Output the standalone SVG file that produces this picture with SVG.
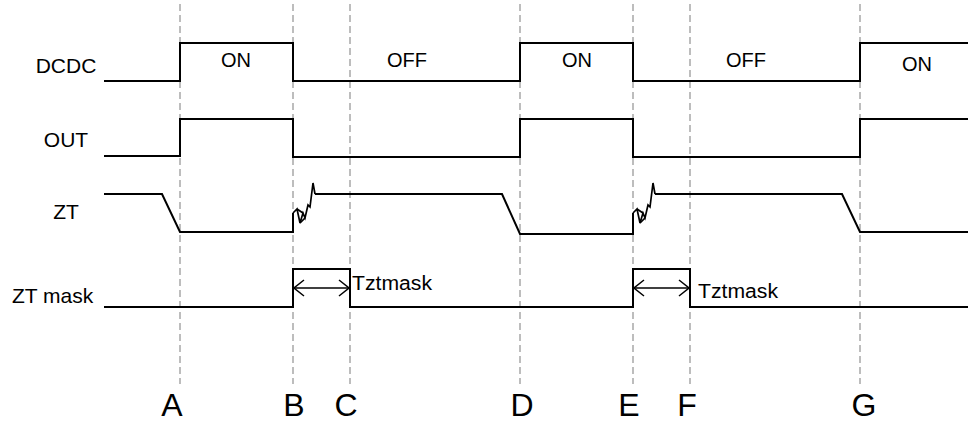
<svg xmlns="http://www.w3.org/2000/svg" width="968" height="423" viewBox="0 0 968 423">
<style>
.grid{stroke:#9a9a9a;stroke-width:1.3;stroke-dasharray:7 4;fill:none}
.sig{stroke:#000;stroke-width:2;fill:none;stroke-linejoin:miter}
.zz{stroke:#000;stroke-width:1.7;fill:none;stroke-linejoin:miter}
.arr{stroke:#000;stroke-width:1.5;fill:none}
.lbl{font-family:"Liberation Sans",Arial,sans-serif;font-size:21px;fill:#000}
.st{font-family:"Liberation Sans",Arial,sans-serif;font-size:20px;fill:#000}
.pt{font-family:"Liberation Sans",Arial,sans-serif;font-size:32px;fill:#000;text-anchor:middle}
</style>
<defs>
<marker id="ah" viewBox="0 0 12 18" refX="11" refY="9" markerWidth="12" markerHeight="18" markerUnits="userSpaceOnUse" orient="auto-start-reverse">
<path d="M1,1 L11,9 L1,17" fill="none" stroke="#000" stroke-width="1.5"/>
</marker>
</defs>
<g id="gridlines">
<line class="grid" x1="180" y1="4" x2="180" y2="384"/>
<line class="grid" x1="293" y1="4" x2="293" y2="384"/>
<line class="grid" x1="350" y1="4" x2="350" y2="384"/>
<line class="grid" x1="520" y1="4" x2="520" y2="384"/>
<line class="grid" x1="633" y1="4" x2="633" y2="384"/>
<line class="grid" x1="690" y1="4" x2="690" y2="384"/>
<line class="grid" x1="860" y1="4" x2="860" y2="384"/>
</g>
<g id="labels">
<text class="lbl" x="66" y="73" text-anchor="middle">DCDC</text>
<text class="lbl" x="66" y="147" text-anchor="middle">OUT</text>
<text class="lbl" x="66" y="219" text-anchor="middle">ZT</text>
<text class="lbl" x="12" y="303">ZT mask</text>
</g>
<g id="dcdc">
<path class="sig" d="M104,81 H180 V43 H293 V81 H520 V43 H633 V81 H860 V43 H968"/>
<text class="st" x="221" y="67">ON</text>
<text class="st" x="387" y="67">OFF</text>
<text class="st" x="562" y="67">ON</text>
<text class="st" x="726" y="67">OFF</text>
<text class="st" x="902" y="71">ON</text>
</g>
<g id="out">
<path class="sig" d="M104,156 H180 V119 H293 V157 H520 V119 H633 V157 H860 V119 H968"/>
</g>
<g id="zt">
<path class="sig" d="M104,194 H162 L180,232 H293 V213"/>
<path class="zz" d="M293,213 L297,209 L300,223 L303,213 L305,218 L308,205 L310,207 L313,183 L315,194"/>
<path class="zz" d="M297,209 L303,213 M300,223 L305,218"/>
<path class="sig" d="M315,194 H502 L520,234 H633 V213"/>
<path class="zz" d="M633,213 L637,209 L640,223 L643,213 L645,218 L648,205 L650,207 L653,183 L655,194"/>
<path class="zz" d="M637,209 L643,213 M640,223 L645,218"/>
<path class="sig" d="M655,194 H842 L860,232 H968"/>
</g>
<g id="ztmask">
<path class="sig" d="M104,307 H293 V269 H350 V307 H633 V269 H690 V307 H968"/>
<text class="st" x="352" y="290" textLength="80" lengthAdjust="spacingAndGlyphs">Tztmask</text>
<text class="st" x="698" y="298" textLength="80" lengthAdjust="spacingAndGlyphs">Tztmask</text>
</g>
<g id="connectors">
<line class="arr" x1="294" y1="288" x2="349" y2="288" marker-start="url(#ah)" marker-end="url(#ah)"/>
<line class="arr" x1="634" y1="288" x2="689" y2="288" marker-start="url(#ah)" marker-end="url(#ah)"/>
</g>
<g id="points">
<text class="pt" x="172" y="416">A</text>
<text class="pt" x="294" y="416">B</text>
<text class="pt" x="346" y="416">C</text>
<text class="pt" x="522" y="416">D</text>
<text class="pt" x="629" y="416">E</text>
<text class="pt" x="687" y="416">F</text>
<text class="pt" x="864" y="416">G</text>
</g>
</svg>
